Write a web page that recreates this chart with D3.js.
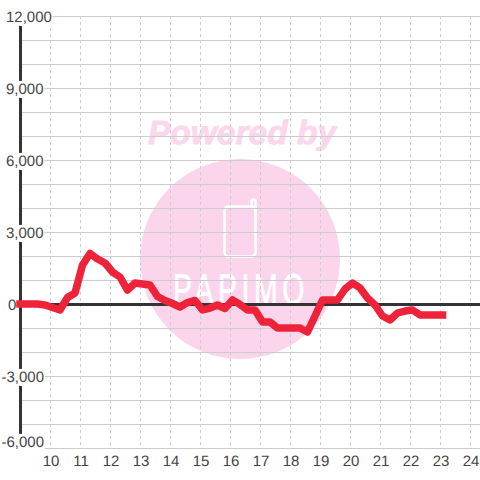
<!DOCTYPE html>
<html><head><meta charset="utf-8">
<script src="https://cdn.jsdelivr.net/npm/d3@7/dist/d3.min.js"></script>
<style>html,body{margin:0;padding:0;background:#fff}svg{display:block}text{font-family:"Liberation Sans",Arial,sans-serif;text-rendering:geometricPrecision}</style>
</head><body><svg id="c" width="480" height="480"></svg>
<script>
const times=["9:00","9:05","9:20","9:35","9:50","10:05","10:20","10:35","10:50","11:05","11:20","11:35","11:50","12:05","12:20","12:35","12:50","13:05","13:20","13:35","13:50","14:05","14:20","14:35","14:50","15:05","15:20","15:35","15:50","16:05","16:20","16:35","16:50","17:05","17:20","17:35","17:50","18:05","18:20","18:35","18:50","19:05","19:20","19:35","19:50","20:05","20:20","20:35","20:50","21:05","21:20","21:35","21:50","22:05","22:20","22:35","22:50","23:05"];
const values=[0,0,0,0,-40,-146,-250,270,458,1625,2104,1875,1708,1333,1125,583,875,833,792,312,146,21,-125,62,146,-250,-167,-42,-188,167,-21,-250,-250,-750,-750,-1000,-1000,-1000,-1000,-1167,-500,167,167,167,625,875,667,250,-42,-500,-667,-375,-292,-250,-458,-458,-458,-458];
const yTicks=[-6000,-3000,0,3000,6000,9000,12000];
const yGrid=[-6000,-5000,-4000,-3000,-2000,-1000,1000,2000,3000,4000,5000,6000,7000,8000,9000,10000,11000,12000];
const xTicks=[10,11,12,13,14,15,16,17,18,19,20,21,22,23,24];
const hour=s=>{const p=s.split(":");return +p[0]+p[1]/60};
const svg=d3.select("#c");
const x=d3.scaleLinear().domain([9,25]).range([20,500]);
const y=d3.scaleLinear().domain([-6000,12000]).range([448,16]);
const fmt=d3.formatLocale({decimal:".",thousands:",",grouping:[3],currency:["$",""],minus:"-"}).format(",");
// watermark
const wm=svg.append("g");
wm.append("text").attr("x",242).attr("y",144).attr("text-anchor","middle").attr("font-size",33.5).attr("font-weight","bold").attr("font-style","italic").attr("fill","#fbd7ec").attr("stroke","#fbd7ec").attr("stroke-width",0.8).text("Powered by");
wm.append("circle").attr("cx",240).attr("cy",259).attr("r",100).attr("fill","#fbd5ec");
wm.append("rect").attr("x",224.5).attr("y",206.5).attr("width",31).attr("height",50).attr("rx",4).attr("fill","none").attr("stroke","#fff").attr("stroke-width",2.5);
wm.append("path").attr("d","M251.5 206V201.5A2 2 0 0 1 255.5 201.5V212").attr("fill","none").attr("stroke","#fff").attr("stroke-width",2.5);
wm.append("text").attr("transform","translate(173,304) scale(.66,1)").attr("font-size",43).attr("letter-spacing",7).attr("fill","#fff").attr("stroke","#fff").attr("stroke-width",0.8).text("PAPIMO");
// grid
svg.append("g").selectAll("line").data(yGrid).join("line").attr("x1",20).attr("x2",480).attr("y1",d=>y(d)+.5).attr("y2",d=>y(d)+.5).attr("stroke","#ccc");
svg.append("g").selectAll("line").data(xTicks).join("line").attr("x1",d=>x(d)+.5).attr("x2",d=>x(d)+.5).attr("y1",16).attr("y2",448).attr("stroke","#ccc").attr("stroke-dasharray","3 3");
// axes
svg.append("line").attr("x1",20.5).attr("x2",20.5).attr("y1",16).attr("y2",448).attr("stroke","#333").attr("stroke-width",3);
svg.append("line").attr("x1",20).attr("x2",480).attr("y1",y(0)+.5).attr("y2",y(0)+.5).attr("stroke","#333").attr("stroke-width",3);
// y labels on white plates
const ya=d3.axisLeft(y).tickValues(yTicks).tickSize(0).tickFormat(fmt);
const yg=svg.append("g").call(ya);
yg.select(".domain").remove();
yg.selectAll("text").attr("font-size",15).attr("fill","#444").style("font-family",'"Liberation Sans"')
 .attr("text-anchor",d=>d<0?"end":"start").attr("x",d=>d<0?44:(d===0?8:6)).attr("dy",".36em").attr("y",d=>d===-6000?-7:0);
yg.selectAll(".tick").each(function(d){
  if(d===0)return;
  const t=d3.select(this).select("text"),b=t.node().getBBox();
  d3.select(this).insert("rect","text").attr("x",b.x-1).attr("y",b.y).attr("width",b.width+2).attr("height",b.height).attr("fill","#fff");
});
// x labels
const xa=d3.axisBottom(x).tickValues(xTicks).tickSize(0).tickFormat(d3.format("d"));
const xg=svg.append("g").attr("transform","translate(0.5,448)").call(xa);
xg.select(".domain").remove();
xg.selectAll("text").attr("font-size",15).attr("fill","#444").style("font-family",'"Liberation Sans"').attr("y",7).attr("dy","0.71em");
// series
const pts=times.map((t,i)=>[hour(t),values[i]]);
svg.append("path").attr("d",d3.line().x(d=>x(d[0])).y(d=>y(d[1]))(pts)).attr("fill","none").attr("stroke","#ee2238").attr("stroke-width",7.5).attr("stroke-linejoin","round").attr("stroke-linecap","square");
</script></body></html>
